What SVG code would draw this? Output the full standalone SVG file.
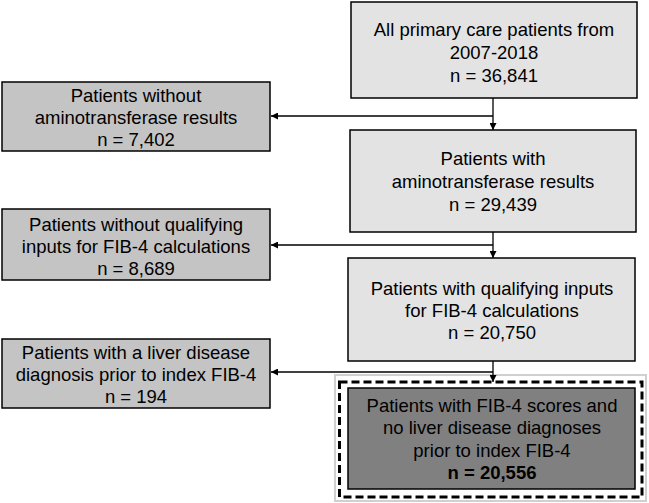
<svg xmlns="http://www.w3.org/2000/svg" width="649" height="503" viewBox="0 0 649 503">
<style>
text{font-family:"Liberation Sans",Arial,sans-serif;font-size:18.5px;fill:#000;text-anchor:middle}
.main{fill:#e3e3e3;stroke:#000;stroke-width:1.5}
.side{fill:#c4c4c4;stroke:#000;stroke-width:1.5}
.final{fill:#808080;stroke:#000;stroke-width:1.5}
.conn{fill:none;stroke:#000;stroke-width:1.3}
</style>
<defs>
<marker id="ah" viewBox="0 0 10 10" refX="10" refY="5" markerWidth="7" markerHeight="7" markerUnits="userSpaceOnUse" orient="auto">
<path d="M0,0 L10,5 L0,10 z" fill="#000"/>
</marker>
</defs>
<rect width="649" height="503" fill="#fff"/>
<g id="n1">
<rect class="main" x="351" y="2" width="286" height="96"/>
<text x="494" y="36">All primary care patients from</text>
<text x="494" y="59">2007-2018</text>
<text x="494" y="82">n = 36,841</text>
</g>
<g id="n1x">
<rect class="side" x="2" y="82" width="268" height="69"/>
<text x="136" y="102">Patients without</text>
<text x="136" y="124">aminotransferase results</text>
<text x="136" y="146">n = 7,402</text>
</g>
<g id="n2">
<rect class="main" x="350" y="130" width="286" height="102"/>
<text x="493" y="165">Patients with</text>
<text x="493" y="188">aminotransferase results</text>
<text x="493" y="211">n = 29,439</text>
</g>
<g id="n2x">
<rect class="side" x="2" y="209" width="268" height="71"/>
<text x="136" y="231">Patients without qualifying</text>
<text x="136" y="253">inputs for FIB-4 calculations</text>
<text x="136" y="275">n = 8,689</text>
</g>
<g id="n3">
<rect class="main" x="348" y="258" width="287" height="103"/>
<text x="492" y="295">Patients with qualifying inputs</text>
<text x="492" y="317">for FIB-4 calculations</text>
<text x="492" y="339">n = 20,750</text>
</g>
<g id="n3x">
<rect class="side" x="2" y="339" width="268" height="69"/>
<text x="136" y="359">Patients with a liver disease</text>
<text x="136" y="381">diagnosis prior to index FIB-4</text>
<text x="136" y="403">n = 194</text>
</g>
<g id="n4">
<rect x="335" y="375" width="311" height="126" fill="#fff" stroke="#d0d0d0" stroke-width="2"/>
<rect x="339.5" y="382" width="302.5" height="115" fill="none" stroke="#000" stroke-width="3" stroke-dasharray="8,4"/>
<rect class="final" x="348" y="388" width="287" height="101"/>
<text x="492" y="412">Patients with FIB-4 scores and</text>
<text x="492" y="434">no liver disease diagnoses</text>
<text x="492" y="457">prior to index FIB-4</text>
<text x="492" y="479" font-weight="bold">n = 20,556</text>
</g>
<g id="connectors">
<path class="conn" d="M493,98 V130" marker-end="url(#ah)"/>
<path class="conn" d="M493,116 H271" marker-end="url(#ah)"/>
<path class="conn" d="M493,232 V258" marker-end="url(#ah)"/>
<path class="conn" d="M493,245 H271" marker-end="url(#ah)"/>
<path class="conn" d="M493,361 V382" marker-end="url(#ah)"/>
<path class="conn" d="M493,372 H271" marker-end="url(#ah)"/>
</g>
</svg>
